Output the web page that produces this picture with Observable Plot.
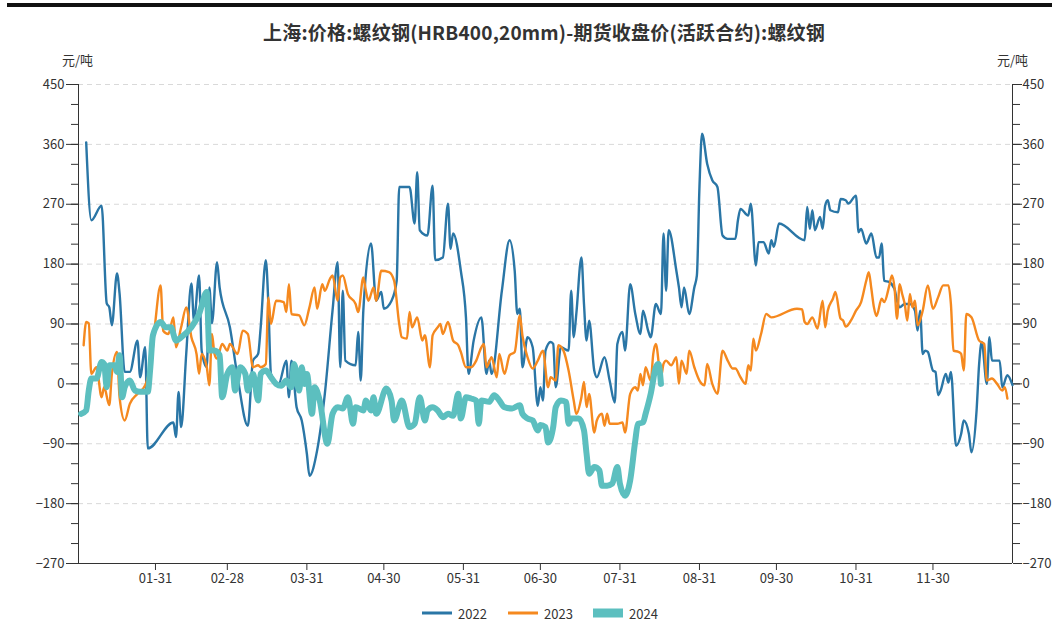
<!DOCTYPE html>
<html><head><meta charset="utf-8">
<script src="https://cdn.jsdelivr.net/npm/d3@7"></script>
<script src="https://cdn.jsdelivr.net/npm/@observablehq/plot@0.6"></script>
<style>
body{margin:0;background:#fff;font-family:"Noto Sans CJK SC","Noto Sans",sans-serif;}
#wrap{position:relative;width:1052px;height:637px;overflow:hidden;background:#fff}
#topbar{position:absolute;left:7px;right:0;top:3px;height:4px;background:#111}
#title{position:absolute;top:19px;left:18px;width:1052px;text-align:center;font-size:19px;font-weight:bold;color:#333;line-height:26px;letter-spacing:0.2px}
#chart{position:absolute;top:50px;left:0}
.leg{position:absolute;top:604px;height:18px;display:flex;align-items:center;font-size:13px;color:#333}
.leg svg{margin-right:6px}
</style></head>
<body>
<div id="wrap">
  <div id="topbar"></div>
  <div id="title">上海:价格:螺纹钢(HRB400,20mm)-期货收盘价(活跃合约):螺纹钢</div>
  <div id="chart"></div>
  <div id="legend"></div>
</div>
<script>
// ---- data (month-day, value) ----
const s2022 = [["01-04",363],["01-06",246],["01-10",268],["01-12",121],["01-13",115],["01-14",88],["01-16",166],["01-17",136],["01-19",18],["01-21",18],["01-24",65],["01-25",10],["01-27",55],["01-28",-97],["02-07",-58],["02-08",-80],["02-09",-12],["02-10",-65],["02-12",46],["02-14",151],["02-15",95],["02-17",163],["02-18",50],["02-20",25],["02-21",145],["02-22",91],["02-24",183],["02-25",145],["03-01",85],["03-04",10],["03-08",-63],["03-10",35],["03-12",45],["03-13",85],["03-15",186],["03-16",120],["03-17",15],["03-20",0],["03-23",35],["03-24",-20],["03-25",35],["03-27",-35],["03-29",-55],["03-31",-105],["04-01",-138],["04-04",-100],["04-07",-15],["04-10",110],["04-12",183],["04-13",25],["04-14",140],["04-15",35],["04-19",28],["04-20",78],["04-21",5],["04-22",110],["04-25",211],["04-27",125],["04-29",138],["04-30",113],["05-03",125],["05-05",155],["05-06",296],["05-10",296],["05-12",241],["05-13",318],["05-14",231],["05-17",223],["05-19",298],["05-20",186],["05-23",190],["05-25",271],["05-26",203],["05-27",226],["05-30",170],["06-01",100],["06-02",15],["06-04",65],["06-07",100],["06-09",15],["06-10",35],["06-11",15],["06-15",140],["06-18",216],["06-20",170],["06-21",105],["06-22",113],["06-23",25],["06-25",70],["06-27",55],["06-29",-33],["06-30",-5],["07-01",-25],["07-02",50],["07-04",63],["07-05",60],["07-06",-5],["07-08",55],["07-11",50],["07-12",140],["07-13",70],["07-14",105],["07-16",190],["07-17",120],["07-18",65],["07-19",95],["07-21",20],["07-22",10],["07-25",40],["07-27",5],["07-29",-28],["07-30",60],["08-01",78],["08-02",50],["08-04",150],["08-06",105],["08-08",75],["08-09",110],["08-11",80],["08-12",70],["08-14",120],["08-16",105],["08-17",226],["08-18",140],["08-19",231],["08-22",170],["08-23",145],["08-24",115],["08-25",145],["08-27",105],["08-29",145],["08-30",163],["08-31",296],["09-01",376],["09-03",331],["09-05",306],["09-07",296],["09-09",223],["09-11",218],["09-14",218],["09-15",246],["09-16",263],["09-19",253],["09-20",271],["09-22",178],["09-23",213],["09-25",213],["09-27",196],["09-28",216],["09-29",206],["10-01",241],["10-11",216],["10-12",266],["10-13",233],["10-14",261],["10-15",231],["10-17",251],["10-18",233],["10-19",268],["10-20",276],["10-21",261],["10-24",258],["10-25",278],["10-27",276],["10-28",271],["10-31",283],["11-01",228],["11-02",233],["11-04",211],["11-06",226],["11-08",190],["11-09",190],["11-10",211],["11-11",155],["11-13",153],["11-15",143],["11-16",125],["11-17",115],["11-19",120],["11-21",120],["11-23",110],["11-24",80],["11-25",110],["11-26",45],["11-27",50],["11-28",48],["11-30",20],["12-01",18],["12-02",-17],["12-03",-10],["12-05",15],["12-06",2],["12-07",18],["12-09",-93],["12-11",-75],["12-12",-55],["12-14",-75],["12-15",-103],["12-17",-40],["12-18",30],["12-19",63],["12-21",0],["12-22",70],["12-23",35],["12-26",35],["12-27",-5],["12-29",13],["12-31",-2]];

const s2023 = [["01-03",58],["01-04",93],["01-05",91],["01-06",15],["01-08",25],["01-10",-20],["01-11",-5],["01-13",-32],["01-14",15],["01-16",48],["01-17",-20],["01-19",-55],["01-21",-30],["01-24",-15],["01-27",-2],["01-30",55],["01-31",95],["02-02",148],["02-03",80],["02-05",75],["02-07",100],["02-08",55],["02-10",85],["02-12",115],["02-14",70],["02-16",45],["02-17",15],["02-18",45],["02-20",25],["02-21",-2],["02-22",75],["02-23",45],["02-24",38],["02-26",60],["02-28",50],["03-01",60],["03-04",45],["03-06",80],["03-08",75],["03-10",25],["03-12",28],["03-13",25],["03-15",30],["03-16",130],["03-17",90],["03-19",125],["03-22",123],["03-23",108],["03-24",150],["03-25",105],["03-28",103],["03-30",88],["04-01",115],["04-03",145],["04-04",113],["04-06",150],["04-07",140],["04-09",158],["04-10",163],["04-12",125],["04-13",160],["04-14",163],["04-16",135],["04-19",120],["04-20",108],["04-22",160],["04-23",140],["04-24",125],["04-26",145],["04-27",125],["04-29",170],["05-02",168],["05-04",155],["05-06",90],["05-07",70],["05-09",68],["05-10",108],["05-11",85],["05-13",100],["05-15",65],["05-16",73],["05-18",25],["05-19",73],["05-21",85],["05-22",90],["05-23",75],["05-25",93],["05-27",65],["05-29",58],["05-30",48],["06-01",25],["06-03",25],["06-05",35],["06-07",55],["06-08",60],["06-09",25],["06-11",40],["06-13",10],["06-14",45],["06-16",15],["06-18",43],["06-20",48],["06-22",103],["06-23",73],["06-25",40],["06-27",23],["06-29",35],["07-01",50],["07-03",-5],["07-04",10],["07-06",5],["07-07",58],["07-09",50],["07-11",20],["07-13",-25],["07-14",-45],["07-16",-20],["07-17",3],["07-18",-35],["07-19",-15],["07-21",-73],["07-22",-55],["07-24",-45],["07-25",-63],["07-26",-45],["07-27",-60],["07-30",-60],["08-01",-58],["08-02",-73],["08-04",-15],["08-06",-5],["08-07",-10],["08-08",15],["08-09",-2],["08-10",25],["08-12",5],["08-13",45],["08-14",60],["08-16",10],["08-17",30],["08-18",35],["08-20",28],["08-22",40],["08-23",0],["08-24",35],["08-26",15],["08-27",50],["08-29",25],["08-31",5],["09-02",-2],["09-03",30],["09-05",0],["09-07",-15],["09-09",50],["09-11",35],["09-13",23],["09-14",23],["09-16",10],["09-18",0],["09-19",28],["09-20",20],["09-21",68],["09-22",50],["09-24",75],["09-26",105],["09-28",100],["10-08",113],["10-10",112],["10-11",93],["10-12",90],["10-14",100],["10-16",83],["10-18",125],["10-19",85],["10-20",110],["10-22",128],["10-23",138],["10-25",98],["10-26",95],["10-27",86],["10-29",95],["10-31",110],["11-02",123],["11-04",155],["11-05",168],["11-06",143],["11-07",115],["11-08",102],["11-10",128],["11-11",123],["11-13",148],["11-14",163],["11-15",145],["11-16",98],["11-17",150],["11-18",135],["11-19",120],["11-20",95],["11-21",135],["11-22",115],["11-23",125],["11-24",88],["11-26",110],["11-28",148],["11-30",113],["12-02",130],["12-04",148],["12-06",148],["12-07",120],["12-08",50],["12-10",48],["12-11",45],["12-12",20],["12-13",105],["12-15",100],["12-18",65],["12-20",60],["12-21",5],["12-23",8],["12-25",0],["12-27",-10],["12-28",-5],["12-29",-22]];

const s2024 = [["01-02",-45],["01-04",-40],["01-05",-10],["01-06",8],["01-08",8],["01-10",33],["01-11",30],["01-12",-5],["01-13",28],["01-15",28],["01-16",18],["01-17",43],["01-18",-20],["01-19",-5],["01-21",5],["01-23",-10],["01-25",-12],["01-28",-12],["01-29",25],["01-30",73],["02-02",93],["02-04",85],["02-06",85],["02-08",65],["02-10",70],["02-14",85],["02-17",105],["02-20",138],["02-21",50],["02-23",50],["02-25",43],["02-26",-20],["02-28",15],["03-02",25],["03-03",-10],["03-05",25],["03-07",15],["03-08",-10],["03-10",15],["03-12",-25],["03-13",15],["03-15",20],["03-17",10],["03-19",0],["03-21",-3],["03-23",5],["03-25",-5],["03-26",30],["03-28",-10],["03-29",25],["03-30",0],["03-31",15],["04-02",-45],["04-03",-5],["04-05",-25],["04-08",-90],["04-10",-45],["04-12",-35],["04-14",-37],["04-16",-20],["04-18",-60],["04-19",-35],["04-22",-40],["04-23",-25],["04-25",-40],["04-26",-20],["04-27",-45],["05-01",-7],["05-03",-25],["05-04",-55],["05-07",-25],["05-10",-65],["05-12",-60],["05-14",-20],["05-16",-55],["05-17",-40],["05-19",-35],["05-21",-40],["05-23",-50],["05-25",-45],["05-27",-48],["05-29",-15],["05-30",-52],["06-01",-20],["06-03",-22],["06-05",-25],["06-06",-60],["06-07",-25],["06-10",-27],["06-12",-17],["06-14",-25],["06-16",-35],["06-19",-37],["06-22",-32],["06-23",-45],["06-25",-52],["06-27",-55],["06-29",-70],["06-30",-62],["07-02",-65],["07-03",-88],["07-05",-65],["07-06",-35],["07-08",-25],["07-10",-27],["07-11",-60],["07-12",-52],["07-15",-52],["07-17",-70],["07-18",-105],["07-19",-135],["07-21",-125],["07-23",-130],["07-24",-153],["07-26",-153],["07-28",-150],["07-30",-125],["07-31",-150],["08-02",-168],["08-04",-145],["08-06",-85],["08-07",-60],["08-09",-58],["08-10",-45],["08-12",-15],["08-14",25],["08-15",30],["08-16",0]];

const seriesNames = ["2022","2023","2024"];
const seriesColors = ["#2a76a6","#f5891f","#5cbfbf"];
const seriesWidths = [2.4,2.4,6];

const xTickLabels = ["01-31","02-28","03-31","04-30","05-31","06-30","07-31","08-31","09-30","10-31","11-30"];
const yMajor = [-270,-180,-90,0,90,180,270,360,450];
const yGrid = [-180,-90,0,90,180,270,360,450];
const yMinor = [-270,-240,-210,-180,-150,-120,-90,-60,-30,0,30,60,90,120,150,180,210,240,270,300,330,360,390,420,450];
const unitLabel = "元/吨";

// ---- build ----
const parse = d3.utcParse("%Y-%m-%d");
const toDate = md => parse("2001-" + md);
const rows = arr => arr.map(([md, v]) => ({date: toDate(md), value: v}));
const allData = [s2022, s2023, s2024].map(rows);
const x0 = toDate("01-01"), x1 = toDate("12-31");

const lineMarks = allData.map((d, i) => Plot.line(d, {
  x: "date", y: "value", stroke: seriesColors[i], strokeWidth: seriesWidths[i],
  curve: "monotone-x", strokeLinejoin: "round", strokeLinecap: "round"
}));

const chart = Plot.plot({
  width: 1052, height: 550,
  marginTop: 34, marginBottom: 37, marginLeft: 78, marginRight: 40,
  x: {type: "utc", domain: [x0, x1]},
  y: {domain: [-270, 450]},
  style: {fontFamily: '"Noto Sans CJK SC","Noto Sans",sans-serif', fontSize: "13px", color: "#333", background: "transparent", overflow: "visible"},
  marks: [
    Plot.gridY(yGrid, {stroke: "#d9d9d9", strokeOpacity: 1, strokeDasharray: "5,4"}),
    Plot.axisY(yMinor, {anchor: "left", tickSize: 7, tickFormat: () => "", label: null}),
    Plot.axisY(yMajor, {anchor: "left", tickSize: 12, tickPadding: 2, label: null}),
    Plot.axisY(yMinor, {anchor: "right", tickSize: 7, tickFormat: () => "", label: null}),
    Plot.axisY(yMajor, {anchor: "right", tickSize: 9, tickPadding: 1, label: null}),
    Plot.axisX(xTickLabels.map(toDate), {tickSize: 7, tickPadding: 3, tickFormat: d3.utcFormat("%m-%d"), label: null}),
    Plot.ruleX([x0, x1], {stroke: "#333"}),
    Plot.ruleY([-270], {stroke: "#333"}),
    ...lineMarks,
    Plot.text([unitLabel], {frameAnchor: "top-left", dx: -1, dy: -29, textAnchor: "middle", fill: "#333"}),
    Plot.text([unitLabel], {frameAnchor: "top-right", dx: 0, dy: -29, textAnchor: "middle", fill: "#333"})
  ]
});
document.getElementById("chart").appendChild(chart);

// ---- legend ----
const legend = document.getElementById("legend");
const legLefts = [422, 508, 593];
seriesNames.forEach((name, i) => {
  const item = document.createElement("div");
  item.className = "leg";
  item.style.left = legLefts[i] + "px";
  const h = i === 2 ? 9 : 3;
  item.innerHTML = `<svg width="30" height="12"><rect x="0" y="${6 - h/2}" width="30" height="${h}" fill="${seriesColors[i]}"/></svg><span>${name}</span>`;
  legend.appendChild(item);
});
</script>
</body></html>
